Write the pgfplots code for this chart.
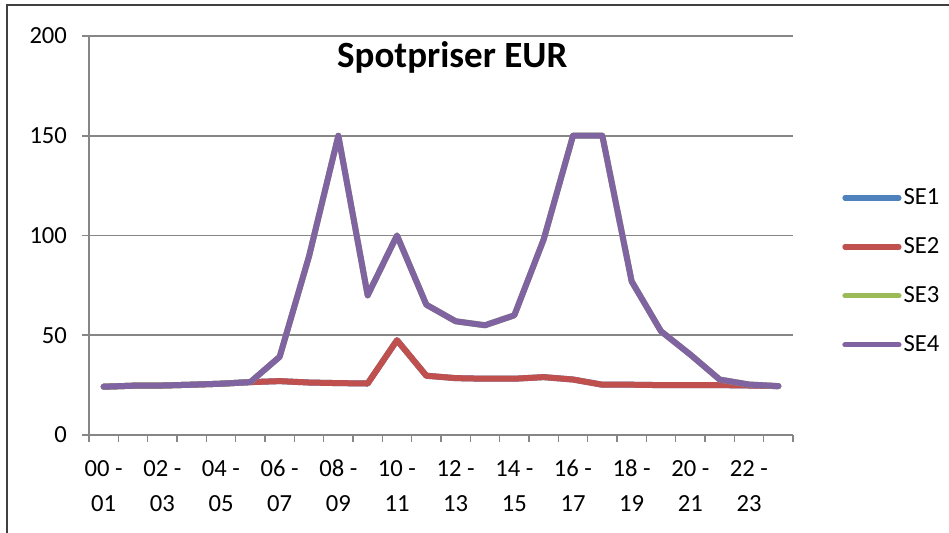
\documentclass[border=0pt]{standalone}
\usepackage{fontspec}
\setmainfont{Carlito}
\usepackage{pgfplots}
\pgfplotsset{compat=1.18}
\definecolor{seA}{HTML}{4F81BD}
\definecolor{seB}{HTML}{C0504D}
\definecolor{seC}{HTML}{9BBB59}
\definecolor{seD}{HTML}{8064A2}
\definecolor{axgray}{HTML}{868686}

\pgfplotstableread{
x    se2   se4
0.5  24.2  24.2
1.5  24.7  24.7
2.5  24.8  24.8
3.5  25.2  25.2
4.5  25.7  25.7
5.5  26.5  26.5
6.5  27.0  39.2
7.5  26.3  89.5
8.5  26.0  150
9.5  25.8  70
10.5 47.5  100
11.5 29.7  65.3
12.5 28.5  57
13.5 28.2  55
14.5 28.2  60
15.5 29.0  98
16.5 27.8  150
17.5 25.2  150
18.5 25.2  77
19.5 25.0  52
20.5 25.0  40.3
21.5 25.0  27.8
22.5 24.8  25.3
23.5 24.5  24.5
}\spot

\begin{document}
\begin{tikzpicture}
\path[use as bounding box] (-44.5pt,-49pt) rectangle (430pt,217.5pt);
\draw[line width=0.8pt, black!75] (-41pt,-49pt) -- (-41pt,215pt) -- (430pt,215pt);
\begin{axis}[
    at={(0pt,0pt)}, anchor=south west,
    scale only axis,
    width=352pt, height=199.5pt,
    xmin=0, xmax=24, ymin=0, ymax=200,
    xtick={0,...,24}, xticklabel=\empty,
    ytick={0,50,...,200},
    extra x ticks={0.5,2.5,...,22.5},
    extra x tick labels={\strut 00 -\\01,\strut 02 -\\03,\strut 04 -\\05,\strut 06 -\\07,\strut 08 -\\09,\strut 10 -\\11,\strut 12 -\\13,\strut 14 -\\15,\strut 16 -\\17,\strut 18 -\\19,\strut 20 -\\21,\strut 22 -\\23},
    extra x tick style={major tick length=0pt, xticklabel style={align=center, font=\fontsize{12.3}{17.5}\selectfont, yshift=-5pt}},
    axis x line*=bottom, axis y line*=left,
    axis line style={axgray, line width=0.8pt, -},
    tick style={axgray, line width=0.8pt},
    tick align=outside, major tick length=3.5pt,
    ymajorgrids, grid style={axgray, line width=0.8pt},
    yticklabel style={font=\fontsize{12.3}{14}\selectfont, xshift=-4pt},
    /pgf/number format/assume math mode=true,
    title={\textbf{Spotpriser EUR}},
    title style={at={(rel axis cs:0.516,0.915)}, anchor=center, font=\fontsize{18.5}{22}\selectfont},
    clip=false,
    legend style={at={(rel axis cs:1.061,0.41)}, anchor=west, draw=none, fill=none,
        font=\fontsize{12.3}{14}\selectfont, row sep=11pt, nodes={inner xsep=1pt}},
    legend cell align=left,
    legend image code/.code={\draw[#1, line width=2.6pt] (0pt,0pt) -- (27pt,0pt);},
    every axis plot/.append style={line width=3pt, line join=round, line cap=round},
]
\addplot[seA] table[x=x, y=se2] {\spot};
\addplot[seB] table[x=x, y=se2] {\spot};
\addplot[seC] table[x=x, y=se4] {\spot};
\addplot[seD] table[x=x, y=se4] {\spot};
\legend{SE1,SE2,SE3,SE4}
\end{axis}
\end{tikzpicture}
\end{document}
